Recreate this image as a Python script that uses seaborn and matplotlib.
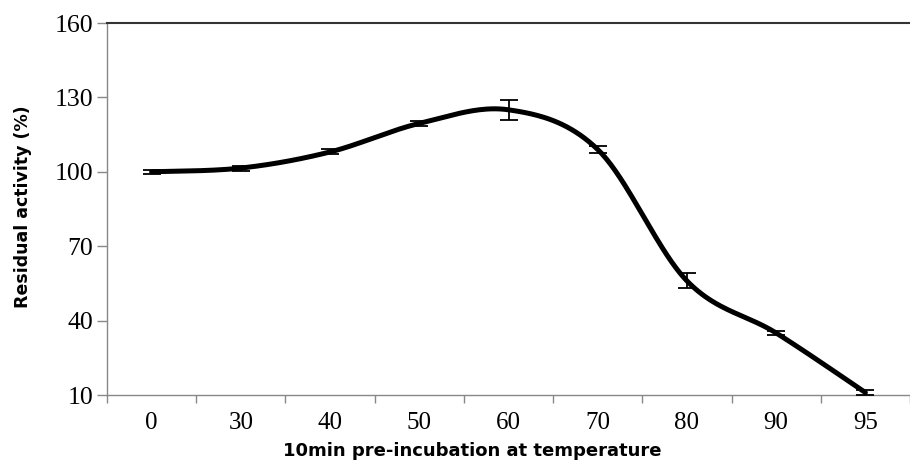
import numpy as np
import pandas as pd
import matplotlib
matplotlib.use("Agg")
import matplotlib.pyplot as plt
import seaborn as sns

categories = ["0", "30", "40", "50", "60", "70", "80", "90", "95"]
activity = [100, 101.5, 108, 119.5, 125, 109, 56, 35, 11]
errors = [0.8, 1.0, 1.0, 1.0, 4.0, 1.5, 3.0, 1.0, 1.0]
y_ticks = [10, 40, 70, 100, 130, 160]

sns.set_theme(style="white")
plt.rcParams["font.family"] = ["DejaVu Sans"]

fig = plt.figure(figsize=(9.10, 4.63), dpi=100)
ax = fig.add_axes([107 / 910, 1 - 395 / 463, 1 - 107 / 910, (395 - 23) / 463])

pos = np.arange(len(categories))
yv = np.array(activity, dtype=float)

# Excel-like smoothed line (Catmull-Rom / cubic Bezier through data points)
def smooth(xs, ys, n=40):
    px, py = [], []
    m = len(xs)
    for i in range(m - 1):
        x0, y0 = (xs[i - 1], ys[i - 1]) if i > 0 else (xs[i], ys[i])
        x1, y1 = xs[i], ys[i]
        x2, y2 = xs[i + 1], ys[i + 1]
        x3, y3 = (xs[i + 2], ys[i + 2]) if i + 2 < m else (xs[i + 1], ys[i + 1])
        c1x, c1y = x1 + (x2 - x0) / 6, y1 + (y2 - y0) / 6
        c2x, c2y = x2 - (x3 - x1) / 6, y2 - (y3 - y1) / 6
        t = np.linspace(0, 1, n, endpoint=(i == m - 2))
        bx = (1 - t) ** 3 * x1 + 3 * (1 - t) ** 2 * t * c1x + 3 * (1 - t) * t ** 2 * c2x + t ** 3 * x2
        by = (1 - t) ** 3 * y1 + 3 * (1 - t) ** 2 * t * c1y + 3 * (1 - t) * t ** 2 * c2y + t ** 3 * y2
        px.extend(bx)
        py.extend(by)
    return np.array(px), np.array(py)

sx, sy = smooth(pos.astype(float), yv)
curve = pd.DataFrame({"x": sx, "y": sy})
sns.lineplot(data=curve, x="x", y="y", ax=ax, color="black", linewidth=3.6, sort=False,
             estimator=None, zorder=3)
ax.errorbar(pos, yv, yerr=errors, fmt="none", ecolor="black", elinewidth=1.3,
            capsize=6.5, capthick=1.3, zorder=4)

ax.set_xlim(-0.5, -0.5 + (910 - 107) / 90.3)
ax.set_ylim(10, 160)
ax.set_yticks(y_ticks)
ax.set_yticklabels([str(v) for v in y_ticks], fontfamily="Liberation Serif", fontsize=18.5,
                   color="black")
ax.set_xticks(pos)
ax.set_xticklabels(categories, fontfamily="Liberation Serif", fontsize=18, color="black")
ax.set_xticks(np.arange(-0.5, len(categories) + 0.5, 1), minor=True)
ax.tick_params(axis="x", which="major", length=0, pad=12)
ax.tick_params(axis="x", which="minor", length=6, width=1, color="#888888", direction="out", bottom=True)
ax.tick_params(axis="y", which="major", length=7, width=1, color="#888888", direction="out", left=True, pad=3)

ax.spines["right"].set_visible(False)
ax.spines["left"].set_color("#888888")
ax.spines["left"].set_linewidth(1)
ax.spines["bottom"].set_color("#888888")
ax.spines["bottom"].set_linewidth(1)
ax.spines["top"].set_color("#333333")
ax.spines["top"].set_linewidth(1.5)

ax.set_xlabel("10min pre-incubation at temperature", fontsize=13, fontweight="bold", color="black")
ax.xaxis.set_label_coords((472 - 107) / 803, -0.127)
ax.set_ylabel("Residual activity (%)", fontsize=12.5, fontweight="bold", color="black")
ax.yaxis.set_label_coords(-0.094, 0.505)

fig.savefig("out.png", dpi=100)
